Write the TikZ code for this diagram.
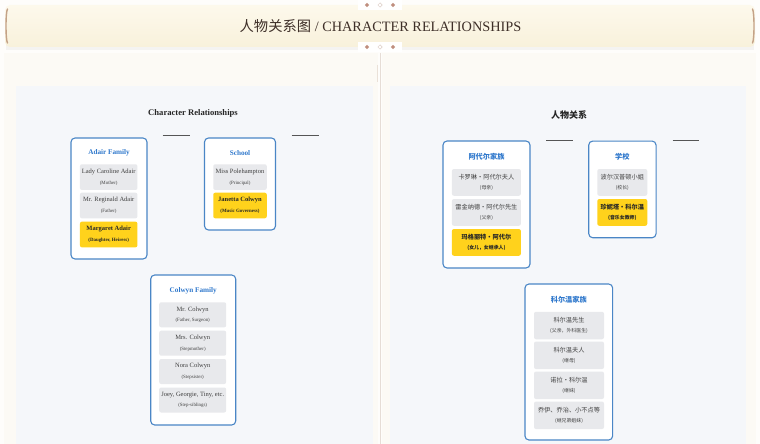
\documentclass[tikz,border=0pt]{standalone}
\usepackage{fontspec}
\setmainfont{Liberation Serif}
\newfontfamily\cjk{Noto Sans CJK SC}
\definecolor{bgcol}{HTML}{FEFDFB}
\definecolor{panelcream}{HTML}{FCFAF5}
\definecolor{panelblue}{HTML}{F5F7FA}
\definecolor{hdrtop}{HTML}{FDF9EC}
\definecolor{hdrbot}{HTML}{F8F1DB}
\definecolor{hdredge}{HTML}{C4A287}
\definecolor{hdrtext}{HTML}{3E2F28}
\definecolor{diam}{HTML}{BF8E7E}
\definecolor{diamlight}{HTML}{DCCCC4}
\definecolor{divcol}{HTML}{E6DDD6}
\definecolor{grpblue}{HTML}{4A86C6}
\definecolor{grptitle}{HTML}{2F78CC}
\definecolor{itemgray}{HTML}{E8E9EC}
\definecolor{itemyellow}{HTML}{FFD21C}
\definecolor{itemtext}{HTML}{404040}
\definecolor{linecol}{HTML}{555555}
\tikzset{
  grp/.style={draw=grpblue, line width=1.1pt, rounded corners=4pt, fill=white, inner sep=0pt},
  grptitle/.style={text=grptitle, font=\fontsize{7.2}{9}\selectfont\bfseries, inner sep=0pt},
  cjkgrptitle/.style={text=grptitle, font=\cjk\fontsize{7.2}{9}\selectfont\bfseries, inner sep=0pt},
  itm/.style={fill=itemgray, rounded corners=2pt, inner sep=0pt, align=center, text=itemtext,
     font=\fontsize{6.5}{10.5}\selectfont},
  hitm/.style={itm, fill=itemyellow, text=black!85, font=\fontsize{6.5}{10.5}\selectfont\bfseries},
  citm/.style={itm, font=\cjk\fontsize{6.2}{10.5}\selectfont},
  chitm/.style={hitm, font=\cjk\fontsize{6.2}{10.5}\selectfont\bfseries},
  stub/.style={draw=linecol, line width=1pt},
  dia/.style={diamond, fill=diam, inner sep=0pt, minimum size=4.5pt},
  diah/.style={diamond, draw=diamlight, fill=white, line width=0.5pt, inner sep=0pt, minimum size=4.5pt},
}
\newcommand\subl[1]{{\fontsize{4.9}{10.5}\selectfont #1}}
\usetikzlibrary{shapes.geometric}
\begin{document}
\begin{tikzpicture}[x=1pt,y=-1pt]
\useasboundingbox (0,0) rectangle (760,444);
\fill[bgcol] (0,0) rectangle (760,444);
% panels
\fill[panelcream] (4,53) rectangle (378,444);
\fill[panelcream] (382,53) rectangle (756,444);
\fill[panelblue] (16,86) rectangle (373,444);
\fill[panelblue] (390,86) rectangle (746,444);
\draw[divcol, line width=0.8pt] (380.5,53) -- (380.5,444);
\draw[divcol!80!hdredge, line width=1pt, opacity=0.6] (377,65) -- (377,82);
% header
\fill[black, opacity=0.04] (6,8) rectangle (754,50);
\shade[top color=hdrtop, bottom color=hdrbot, rounded corners=5pt] (5,5) rectangle (755,47);
\draw[hdredge, line width=1.4pt, line cap=round] (7.5,9) .. controls (5.5,12) and (5.5,40) .. (7.5,43);
\draw[hdredge, line width=1.4pt, line cap=round] (752.5,9) .. controls (754.5,12) and (754.5,40) .. (752.5,43);
\fill[white] (358,0) rectangle (402,10);
\fill[white] (358,42) rectangle (402,52);
\node[dia] (d1) at (367,5) {};
\node[diah] (d2) at (380,5) {};
\node[dia] (d3) at (393,5) {};
\node[dia] (d4) at (367,47) {};
\node[diah] (d5) at (380,47) {};
\node[dia] (d6) at (393,47) {};
\node[text=hdrtext, font=\fontsize{14.3}{16}\selectfont, inner sep=0pt] (hdr) at (380.5,26)
  {{\cjk 人物关系图} / CHARACTER RELATIONSHIPS};

% ===== left panel =====
\node[font=\fontsize{8.6}{10}\selectfont\bfseries, text=black!85, inner sep=0pt] (ltitle) at (193,113) {Character Relationships};
\coordinate (ls1a) at (162.5,135.5); \coordinate (ls1b) at (189.5,135.5);
\coordinate (ls2a) at (291.5,135.5); \coordinate (ls2b) at (318.5,135.5);
\draw[stub] (ls1a) -- (ls1b);
\draw[stub] (ls2a) -- (ls2b);

\node[grp, minimum width=76, minimum height=121] (adair) at (109,198.5) {};
\node[grptitle] (adairT) at (109,153) {Adair Family};
\node[itm, minimum width=57.5, minimum height=25.7] (a1) at (108.7,177.1) {Lady Caroline Adair\\\subl{(Mother)}};
\node[itm, minimum width=57.5, minimum height=25.7] (a2) at (108.7,205.5) {Mr. Reginald Adair\\\subl{(Father)}};
\node[hitm, minimum width=57.5, minimum height=25.7] (a3) at (108.7,234.5) {Margaret Adair\\\subl{(Daughter, Heiress)}};

\node[grp, minimum width=71, minimum height=92] (school) at (240,184) {};
\node[grptitle] (schoolT) at (240,153) {School};
\node[itm, minimum width=53.5, minimum height=25.7] (s1) at (240,177.1) {Miss Polehampton\\\subl{(Principal)}};
\node[hitm, minimum width=53.5, minimum height=25.7] (s2) at (240,205.5) {Janetta Colwyn\\\subl{(Music Governess)}};

\node[grp, minimum width=85, minimum height=150] (colwyn) at (193.2,350) {};
\node[grptitle] (colwynT) at (193.2,290.5) {Colwyn Family};
\node[itm, minimum width=67, minimum height=25] (c1) at (192.7,314.8) {Mr. Colwyn\\\subl{(Father, Surgeon)}};
\node[itm, minimum width=67, minimum height=25] (c2) at (192.7,343.2) {Mrs. Colwyn\\\subl{(Stepmother)}};
\node[itm, minimum width=67, minimum height=25] (c3) at (192.7,371.5) {Nora Colwyn\\\subl{(Stepsister)}};
\node[itm, minimum width=67, minimum height=25] (c4) at (192.7,400) {Joey, Georgie, Tiny, etc.\\\subl{(Step-siblings)}};

% ===== right panel =====
\node[font=\cjk\fontsize{9}{10}\selectfont\bfseries, text=black!85, inner sep=0pt] (rtitle) at (569,115) {人物关系};
\coordinate (rs1a) at (546,140); \coordinate (rs1b) at (572.5,140);
\coordinate (rs2a) at (672.5,140); \coordinate (rs2b) at (698.5,140);
\draw[stub] (rs1a) -- (rs1b);
\draw[stub] (rs2a) -- (rs2b);

\node[grp, minimum width=87, minimum height=127] (radair) at (486.5,204.5) {};
\node[cjkgrptitle] (radairT) at (486.5,157) {阿代尔家族};
\node[citm, minimum width=69, minimum height=26.7] (ra1) at (486.4,182.4) {卡罗琳·阿代尔夫人\\\subl{(母亲)}};
\node[citm, minimum width=69, minimum height=26.7] (ra2) at (486.4,212.4) {雷金纳德·阿代尔先生\\\subl{(父亲)}};
\node[chitm, minimum width=69, minimum height=26.7] (ra3) at (486.4,242.4) {玛格丽特·阿代尔\\\subl{(女儿，女继承人)}};

\node[grp, minimum width=67.3, minimum height=96.7] (rschool) at (622.4,189.4) {};
\node[cjkgrptitle] (rschoolT) at (622.4,157) {学校};
\node[citm, minimum width=50, minimum height=26.7] (rs1) at (622.3,182.4) {波尔汉普顿小姐\\\subl{(校长)}};
\node[chitm, minimum width=50, minimum height=26.7] (rs2) at (622.3,212.4) {珍妮塔·科尔温\\\subl{(音乐女教师)}};

\node[grp, minimum width=87.7, minimum height=156] (rcolwyn) at (568.8,362) {};
\node[cjkgrptitle] (rcolwynT) at (568.8,300) {科尔温家族};
\node[citm, minimum width=70, minimum height=27.5] (rc1) at (569,325.5) {科尔温先生\\\subl{(父亲，外科医生)}};
\node[citm, minimum width=70, minimum height=27.5] (rc2) at (569,355.3) {科尔温夫人\\\subl{(继母)}};
\node[citm, minimum width=70, minimum height=27.5] (rc3) at (569,385.3) {诺拉·科尔温\\\subl{(继妹)}};
\node[citm, minimum width=70, minimum height=27.5] (rc4) at (569,415.3) {乔伊、乔治、小不点等\\\subl{(继兄弟姐妹)}};
\end{tikzpicture}
\end{document}
